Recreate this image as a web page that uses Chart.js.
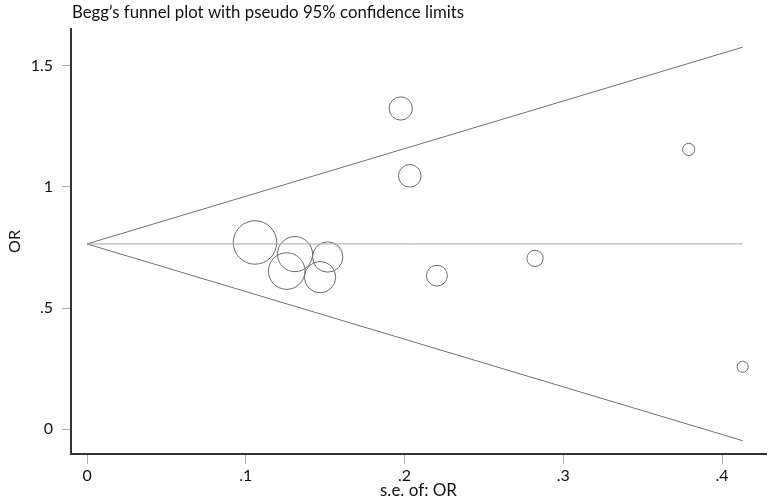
<!DOCTYPE html>
<html>
<head>
<meta charset="utf-8">
<title>Begg's funnel plot</title>
<script src="https://cdn.jsdelivr.net/npm/chart.js@4.4.1/dist/chart.umd.min.js"></script>
<style>
  html, body { margin: 0; padding: 0; background: #fff; }
  #box { width: 771px; height: 502px; }
</style>
</head>
<body>
<div id="box"><canvas id="myChart" width="771" height="502"></canvas></div>
<script>
  // study estimates
  const seValues = [0.1058, 0.1258, 0.131, 0.1468, 0.1516, 0.1976, 0.2033, 0.2204, 0.2822, 0.379, 0.413];
  const orValues = [0.771, 0.653, 0.723, 0.628, 0.711, 1.324, 1.046, 0.634, 0.705, 1.155, 0.258];

  // pseudo 95% limits (start at se 0, end at the largest se)
  const limitSe = [0, 0.413];
  const pooledOr = [0.765, 0.765];
  const upperLimit = [0.765, 1.577];
  const lowerLimit = [0.765, -0.047];

  const xTicks = [0, 0.1, 0.2, 0.3, 0.4];
  const yTicks = [0, 0.5, 1, 1.5];

  const fontName = 'Lato';

  function stataLabel(v) {
    return String(v).replace(/^0\./, '.');
  }

  function toPoints(xs, ys) {
    return xs.map((x, i) => ({ x: x, y: ys[i] }));
  }

  // title sits at the top left, lined up with the y axis
  const topTitle = {
    id: 'topTitle',
    afterDraw(chart) {
      const ctx = chart.ctx;
      ctx.save();
      ctx.font = '16.8px ' + fontName;
      ctx.fillStyle = '#111';
      ctx.textBaseline = 'middle';
      ctx.textAlign = 'left';
      ctx.fillText('Begg\u2019s funnel plot with pseudo 95% confidence limits', chart.chartArea.left + 1, 13);
      ctx.restore();
    }
  };

  const lineStyle = {
    showLine: true,
    pointRadius: 0,
    borderWidth: 1,
    fill: false
  };

  const data = {
    datasets: [
      Object.assign({ label: 'pooled', data: toPoints(limitSe, pooledOr), borderColor: '#a8a8a8' }, lineStyle),
      Object.assign({ label: 'upper', data: toPoints(limitSe, upperLimit), borderColor: '#707070' }, lineStyle),
      Object.assign({ label: 'lower', data: toPoints(limitSe, lowerLimit), borderColor: '#707070' }, lineStyle),
      {
        label: 'studies',
        data: toPoints(seValues, orValues),
        showLine: false,
        backgroundColor: 'rgba(0,0,0,0)',
        borderColor: '#6a6a6a',
        borderWidth: 1,
        // marker size grows with 1/se
        pointRadius: ctx => 2.3 / ctx.raw.x,
        pointHoverRadius: ctx => 2.3 / ctx.raw.x
      }
    ]
  };

  const config = {
    type: 'scatter',
    data: data,
    plugins: [topTitle],
    options: {
      responsive: false,
      animation: false,
      layout: { autoPadding: false, padding: { top: 29, right: 5, left: 0, bottom: 0 } },
      plugins: {
        legend: { display: false },
        tooltip: { enabled: false },
        title: { display: false }
      },
      scales: {
        x: {
          type: 'linear',
          min: -0.0101,
          max: 0.4277,
          afterBuildTicks: s => { s.ticks = xTicks.map(v => ({ value: v })); },
          afterFit: s => { s.height = 48; },
          border: { display: true, color: '#333', width: 2 },
          grid: { drawOnChartArea: false, drawTicks: true, tickLength: 10, tickColor: '#aaa', tickWidth: 1 },
          ticks: {
            padding: 2,
            maxRotation: 0,
            color: '#111',
            font: { family: fontName, size: 16 },
            callback: v => stataLabel(v)
          },
          title: {
            display: true,
            text: 's.e. of: OR',
            color: '#111',
            font: { family: fontName, size: 17 },
            padding: { top: 0, bottom: 1 }
          }
        },
        y: {
          type: 'linear',
          min: -0.102,
          max: 1.652,
          afterBuildTicks: s => { s.ticks = yTicks.map(v => ({ value: v })); },
          afterFit: s => { s.width = 71; },
          border: { display: true, color: '#333', width: 2 },
          grid: { drawOnChartArea: false, drawTicks: true, tickLength: 9, tickColor: '#aaa', tickWidth: 1 },
          ticks: {
            padding: 9,
            color: '#111',
            font: { family: fontName, size: 16 },
            callback: v => stataLabel(v)
          },
          title: {
            display: true,
            text: 'OR',
            color: '#111',
            font: { family: fontName, size: 16 },
            padding: { top: 5, bottom: 0 }
          }
        }
      }
    }
  };

  const myChart = new Chart(
    document.getElementById('myChart'),
    config
  );
</script>
</body>
</html>
